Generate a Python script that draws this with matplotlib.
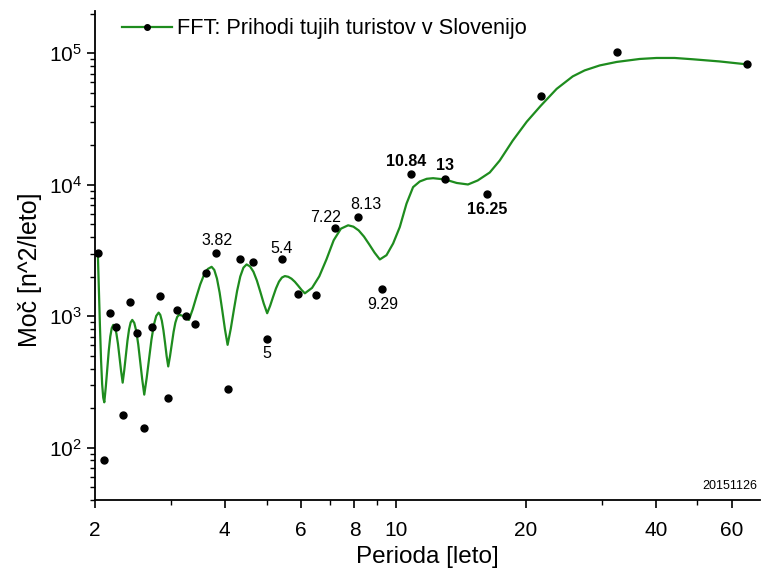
import matplotlib
matplotlib.use("Agg")
import matplotlib.pyplot as plt
from matplotlib.lines import Line2D
from matplotlib.ticker import FixedLocator, FixedFormatter, LogLocator, NullFormatter

plt.rcParams["font.family"] = ["Liberation Sans", "DejaVu Sans"]

# FFT spectrum points (period in years, power)
periods = [2.03, 2.10, 2.17, 2.24, 2.32, 2.41, 2.50, 2.60, 2.71, 2.83, 2.95,
           3.10, 3.25, 3.42, 3.61, 3.82, 4.06, 4.33, 4.64, 5.00, 5.42, 5.91,
           6.50, 7.22, 8.13, 9.29, 10.84, 13.0, 16.25, 21.67, 32.5, 65.0]
power = [3050, 81, 1065, 825, 177, 1277, 751, 142, 835, 1425, 240,
         1116, 1010, 870, 2117, 3033, 281, 2702, 2592, 669, 2702, 1468,
         1450, 4725, 5685, 1610, 12100, 10970, 8550, 47500, 102800, 82500]

# smooth (zero-padded) spectrum curve
curve_x = [2.030, 2.0418, 2.0537, 2.0656, 2.0777, 2.0898,
           2.1017, 2.1186, 2.1356, 2.1527, 2.1700, 2.1874,
           2.2050, 2.2235, 2.2421, 2.2610, 2.2799, 2.2991,
           2.3184, 2.3383, 2.3583, 2.3786, 2.3990, 2.4195,
           2.4403, 2.4665, 2.4930, 2.5197, 2.5468, 2.5741,
           2.6018, 2.6353, 2.6693, 2.7037, 2.7385, 2.7739,
           2.8097, 2.8338, 2.8581, 2.8826, 2.9073, 2.9322,
           2.9574, 2.9857, 3.0143, 3.0431, 3.0722, 3.1017,
           3.1313, 3.1592, 3.1874, 3.2158, 3.2446, 3.2736,
           3.3029, 3.3703, 3.4391, 3.5093, 3.5811, 3.6543,
           3.7288, 3.7823, 3.8366, 3.8917, 3.9475, 4.0039,
           4.0613, 4.1306, 4.2010, 4.2727, 4.3455, 4.4196,
           4.4948, 4.5780, 4.6627, 4.7489, 4.8368, 4.9263,
           5.0174, 5.0971, 5.1780, 5.2602, 5.3437, 5.4282,
           5.5143, 5.6134, 5.7143, 5.8171, 5.9216, 6.0280,
           6.1363, 6.3773, 6.6280, 6.8883, 7.1584, 7.4397,
           7.7322, 7.9536, 8.1813, 8.4157, 8.6567, 8.9046,
           9.1593, 9.4917, 9.8328, 10.191, 10.562, 10.940, 11.338,
           11.770, 12.173, 12.978, 13.812, 14.67, 15.45,
           16.48, 17.38, 18.63, 20.08, 21.64, 23.56,
           25.67, 27.36, 29.65, 32.46, 36.71, 40.19,
           44.25, 48.70, 56.25, 64.74]
curve_y = [3054, 1585, 823, 462, 303, 240,
           221.5, 290.5, 402.1, 549.4, 701.2, 814.0,
           859.4, 825.2, 738.5, 615.5, 487.5, 382.4,
           312.4, 389.2, 506.6, 652.4, 795.2, 897.4,
           937.6, 889.9, 770.6, 609.0, 450.7, 329.2,
           253.4, 337.7, 476.6, 662.9, 858.8, 1005.5,
           1065, 1025.4, 924.6, 780.3, 628.4, 497.7,
           415.1, 497.1, 617.3, 759.7, 893.6, 986.5,
           1023, 1019.3, 1009.5, 993.8, 974.1, 954.1,
           937.6, 1129, 1411, 1748, 2067, 2289,
           2376, 2250, 1935, 1514, 1106, 796.5,
           606, 803.3, 1126, 1557, 2005, 2341,
           2477, 2394, 2179, 1868, 1535, 1250,
           1054, 1200, 1403, 1629, 1832, 1968,
           2020, 1996, 1930, 1828, 1706, 1586,
           1494, 1643, 2012, 2710, 3784, 4634,
           4916, 4800, 4494, 4035, 3517, 3047,
           2703, 2913, 3573, 4773, 7179, 9592, 10593,
           11101, 11220, 10970, 10319, 10050, 10780,
           12400, 15280, 21650, 30170, 39890, 53630,
           66720, 74100, 80830, 85930, 90530, 92130,
           92130, 90080, 86700, 82540]

# labelled peaks: (text, period, power, offset in pixels, bold)
labels = [
    ("3.82", 3.82, 3033, (1, 12), False),
    ("5.4", 5.42, 2702, (0, 11), False),
    ("5", 5.00, 669, (0, -14), False),
    ("7.22", 7.22, 4725, (-10, 10), False),
    ("8.13", 8.13, 5685, (8, 13), False),
    ("9.29", 9.29, 1610, (0, -15), False),
    ("10.84", 10.84, 12100, (-5, 12), True),
    ("13", 13.0, 10970, (0, 14), True),
    ("16.25", 16.25, 8550, (0, -16), True),
]

green = "#1e8c1e"

fig = plt.figure(figsize=(7.62, 5.75), dpi=100)
ax = fig.add_axes([0.1247, 0.1304, 0.8733, 0.8506])

ax.plot(curve_x, curve_y, color=green, lw=1.6, zorder=2)
ax.plot(periods, power, "o", color="black", ms=5, zorder=3)

for txt, px, py, off, bold in labels:
    ax.annotate(txt, (px, py), xytext=off, textcoords="offset pixels",
                ha="center", va="center", fontsize=11.5,
                fontweight="bold" if bold else "normal")

ax.set_xscale("log")
ax.set_yscale("log")
ax.set_xlim(2, 70)
ax.set_ylim(40, 2.1e5)

ax.xaxis.set_major_locator(FixedLocator([2, 4, 6, 8, 10, 20, 40, 60]))
ax.xaxis.set_major_formatter(FixedFormatter(["2", "4", "6", "8", "10", "20", "40", "60"]))
ax.xaxis.set_minor_locator(FixedLocator([3, 5, 7, 9, 30, 50]))
ax.xaxis.set_minor_formatter(NullFormatter())
ax.yaxis.set_major_locator(LogLocator(base=10, numticks=10))
ax.yaxis.set_minor_locator(LogLocator(base=10, subs=range(2, 10), numticks=20))
ax.yaxis.set_minor_formatter(NullFormatter())

ax.tick_params(which="major", direction="out", length=6, width=1.2, labelsize=15)
ax.tick_params(axis="x", which="major", pad=9)
ax.tick_params(which="minor", direction="out", length=3.5, width=1.0)

for side in ("top", "right"):
    ax.spines[side].set_visible(False)
for side in ("left", "bottom"):
    ax.spines[side].set_linewidth(1.3)

ax.set_xlabel("Perioda [leto]", fontsize=17.5)
ax.set_ylabel("Moč [n^2/leto]", fontsize=18)
ax.xaxis.set_label_coords(0.5, -0.095)
ax.yaxis.set_label_coords(-0.08, 0.47)

handle = Line2D([], [], color=green, lw=1.6, marker="o", mfc="black", mec="black", ms=4)
ax.legend([handle], ["FFT: Prihodi tujih turistov v Slovenijo"], loc="upper left",
          bbox_to_anchor=(0.04, 0.985), frameon=False, fontsize=15.7,
          borderpad=0, borderaxespad=0, handlelength=2.3, handletextpad=0.25,
          numpoints=1)

ax.text(0.995, 0.016, "20151126", transform=ax.transAxes, ha="right", va="bottom",
        fontsize=9)

fig.savefig("out.png", dpi=100)
